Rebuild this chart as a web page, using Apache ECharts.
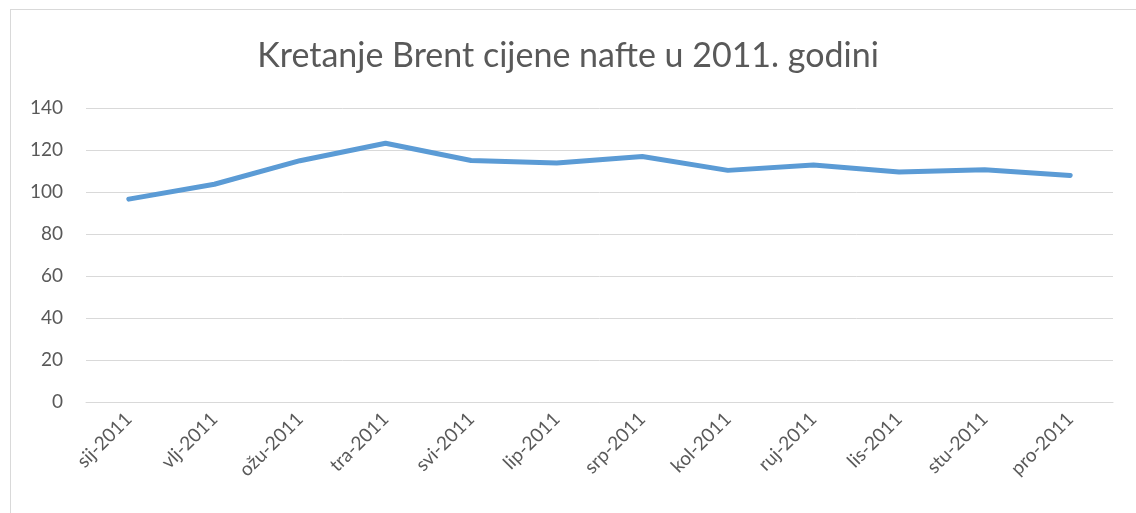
<!DOCTYPE html>
<html>
<head>
<meta charset="utf-8">
<script src="https://cdn.jsdelivr.net/npm/echarts@6/dist/echarts.min.js"></script>
<style>
  html, body { margin: 0; padding: 0; background: #fff; }
  #frame { position: absolute; left: 10px; top: 9px; width: 1140px; height: 520px; border: 1px solid #d9d9d9; }
  #main { position: absolute; left: 0; top: 0; width: 1136px; height: 513px; }
</style>
</head>
<body>
<div id="frame"></div>
<div id="main"></div>
<script>
// mjeseci 2011.
const months = ["sij-2011", "vlj-2011", "ožu-2011", "tra-2011", "svi-2011", "lip-2011",
  "srp-2011", "kol-2011", "ruj-2011", "lis-2011", "stu-2011", "pro-2011"];
// Brent cijena (USD/barel)
const brentPrice = [96.6, 103.7, 114.9, 123.2, 115.0, 113.8, 116.9, 110.3, 112.9, 109.5, 110.6, 107.9];
const yTicks = { min: 0, max: 140, interval: 20 };

const chart = echarts.init(document.getElementById("main"));
const textColor = "#595959";
const font = "Lato, 'Open Sans', sans-serif";

chart.setOption({
  animation: false,
  title: {
    text: "Kretanje Brent cijene nafte u 2011. godini",
    left: "center",
    top: 34,
    textStyle: { fontFamily: font, fontSize: 34, fontWeight: "normal", color: textColor }
  },
  grid: { left: 86, right: 23, top: 108, bottom: 111 },
  xAxis: {
    type: "category",
    data: months,
    boundaryGap: true,
    axisTick: { show: false },
    axisLine: { lineStyle: { color: "#d9d9d9", width: 1 } },
    axisLabel: { rotate: 45, margin: 14, fontFamily: font, fontSize: 19, color: textColor }
  },
  yAxis: {
    type: "value",
    min: yTicks.min,
    max: yTicks.max,
    interval: yTicks.interval,
    axisLine: { show: false },
    axisTick: { show: false },
    splitLine: { lineStyle: { color: "#d9d9d9", width: 1 } },
    axisLabel: { margin: 23, fontFamily: font, fontSize: 19, color: textColor }
  },
  series: [
    {
      name: "Brent",
      type: "line",
      data: brentPrice,
      symbol: "none",
      lineStyle: { color: "#5b9bd5", width: 5, cap: "round", join: "round" }
    }
  ]
});
</script>
</body>
</html>
